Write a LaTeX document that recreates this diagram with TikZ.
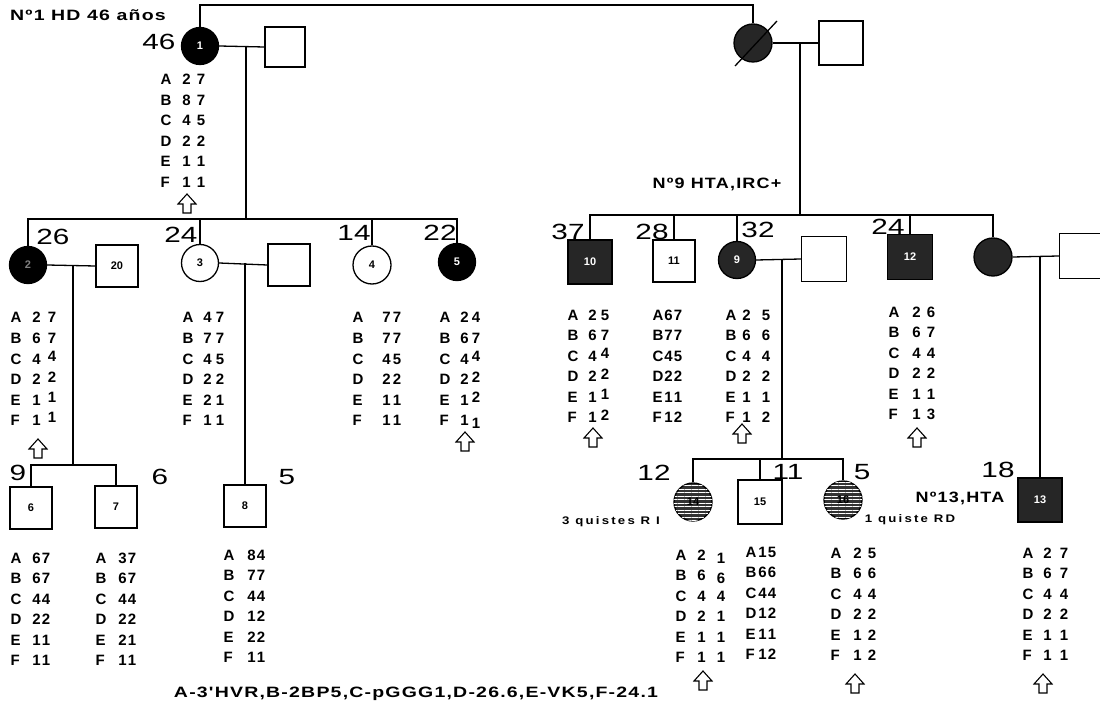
\documentclass[tikz,border=0pt]{standalone}
\usepackage{fontspec}
\setmainfont{Liberation Sans}
\newfontfamily\agef[FakeStretch=1.35]{Liberation Sans}
\newfontfamily\notef[FakeStretch=1.2,LetterSpace=8]{Liberation Sans}
\newfontfamily\legf[FakeStretch=1.3,LetterSpace=8]{Liberation Sans}
\newfontfamily\snotef[FakeStretch=1.2,LetterSpace=20]{Liberation Sans}
\usetikzlibrary{patterns.meta}
\newcommand\gtab[3]{\begin{tabular}[t]{@{}l@{\hspace{#1}}c@{\hspace{#2}}c@{}}#3\end{tabular}}
\newcommand\hi[1]{\raisebox{2.5pt}{#1}}
\newcommand\lo[1]{\raisebox{-3pt}{#1}}
\tikzset{uparr/.pic={\draw[line width=1.1pt,fill=white,line join=miter] (-9,0) -- (0,-10) -- (9,0) -- (4,0) -- (4,9) -- (-4,9) -- (-4,0) -- cycle;}}
\begin{document}
\begin{tikzpicture}[x=1pt,y=-1pt,line width=1.3pt,
  fem/.style={circle,draw,minimum size=37pt,inner sep=0pt,font=\fontsize{11}{12}\selectfont\bfseries},
  mal/.style={rectangle,draw,minimum size=42pt,inner sep=0pt,font=\fontsize{11}{12}\selectfont\bfseries},
  aff/.style={fill=black,text=white},
  dark/.style={fill=black!85,text=white},
  hatched/.style={fill=black!80,text=black,postaction={pattern={Lines[angle=0,distance=3.5pt,line width=1pt]},pattern color=white}},
  age/.style={font=\agef\fontsize{22}{23}\selectfont,inner sep=0pt},
  geno/.style={font=\fontsize{15}{20.5}\selectfont\bfseries,inner sep=0pt,anchor=base west},
  note/.style={font=\notef\fontsize{15}{16}\selectfont\bfseries,inner sep=0pt},
  leg/.style={font=\legf\fontsize{15}{16}\selectfont\bfseries,inner sep=0pt},
  snote/.style={font=\snotef\fontsize{11}{12}\selectfont\bfseries,inner sep=0pt}]
\useasboundingbox (0,0) rectangle (1100,703);

% generation I
\node[fem,aff] (n1) at (200,46) {1};
\node[mal,minimum size=40pt] (s1) at (285,47) {};
\node[fem,dark,minimum size=38pt] (g1) at (753,43) {};
\node[mal,minimum size=44pt] (s2) at (841,43) {};
\draw (735,66) -- (777,21);

% generation II
\node[fem,aff,text=gray] (n2) at (28,265) {2};
\node[mal] (n20) at (117,266) {20};
\node[fem] (n3) at (200,263) {3};
\node[mal] (s3) at (289,265) {};
\node[fem,minimum size=38pt] (n4) at (372,265) {4};
\node[fem,aff] (n5) at (457,262) {5};
\node[mal,dark,minimum size=44pt] (n10) at (590,262) {10};
\node[mal] (n11) at (674,261) {11};
\node[fem,dark] (n9) at (737,260) {9};
\node[mal,minimum size=45pt] (s9) at (824,259) {};
\node[mal,dark,minimum size=45pt] (n12) at (910,257) {12};
\node[fem,dark,minimum size=38pt] (f2) at (993,257) {};
\node[mal,minimum size=45pt] (s4) at (1082,256) {};

% generation III
\node[mal] (n6) at (31,508) {6};
\node[mal] (n7) at (116,507) {7};
\node[mal] (n8) at (245,506) {8};
\node[fem,hatched,minimum size=38pt] (n14) at (693,502) {14};
\node[mal,minimum size=44pt] (n15) at (760,502) {15};
\node[fem,hatched,minimum size=38pt] (n16) at (843,500) {16};
\node[mal,dark,minimum size=44pt] (n13) at (1040,500) {13};

% connectors
\coordinate (top) at (0,5);
\draw (n1.north) -- (n1.north |- top) -| (g1.north);
\draw (n1.east) -- (s1.west);
\coordinate (m1) at (246,47);
\coordinate (sib1) at (0,219);
\draw (m1) -- (m1 |- sib1);
\draw (n2.north) -- (n2.north |- sib1) -- (n5.north |- sib1) -- (n5.north);
\draw (n3.north) -- (n3.north |- sib1);
\draw (n4.north) -- (n4.north |- sib1);

\draw (g1.east) -- (s2.west);
\coordinate (m2) at (800,43);
\coordinate (sib2) at (0,215);
\draw (m2) -- (m2 |- sib2);
\draw (n10.north) -- (n10.north |- sib2) -- (f2.north |- sib2) -- (f2.north);
\draw (n11.north) -- (n11.north |- sib2);
\draw (n9.north) -- (n9.north |- sib2);
\draw (n12.north) -- (n12.north |- sib2);

\draw (n2.east) -- (n20.west);
\coordinate (m3) at (73,266);
\coordinate (sib3) at (0,465);
\draw (m3) -- (m3 |- sib3);
\draw (n6.north) -- (n6.north |- sib3) -- (n7.north |- sib3) -- (n7.north);

\draw (n3.east) -- (s3.west);
\coordinate (m4) at (n8 |- n3);
\draw (m4) -- (n8.north);

\draw (n9.east) -- (s9.west);
\coordinate (m5) at (782,260);
\coordinate (sib4) at (0,459);
\draw (m5) -- (m5 |- sib4);
\draw (n14.north) -- (n14.north |- sib4) -- (n16.north |- sib4) -- (n16.north);
\draw (n15.north) -- (n15.north |- sib4);

\draw (f2.east) -- (s4.west);
\coordinate (m6) at (n13 |- f2);
\draw (m6) -- (n13.north);

% ages
\node[age] (a1) at (159,42) {46};
\node[age] (a2) at (53,237) {26};
\node[age] (a3) at (181,235) {24};
\node[age] (a4) at (354,233) {14};
\node[age] (a5) at (440,233) {22};
\node[age] (a10) at (568,232) {37};
\node[age] (a11) at (652,232) {28};
\node[age] (a9) at (758,230) {32};
\node[age] (a12) at (888,227) {24};
\node[age] (a6) at (18,473) {9};
\node[age] (a7) at (160,477) {6};
\node[age] (a8) at (287,477) {5};
\node[age] (a14) at (654,473) {12};
\node[age] (a15) at (788,472) {11};
\node[age] (a16) at (862,472) {5};
\node[age] (a13) at (998,470) {18};

% notes
\node[leg] (c1) at (88,15) {Nº1 HD 46 años};
\node[note] (c9) at (717,184) {Nº9 HTA,IRC+};
\node[note] (c13) at (960,498) {Nº13,HTA};
\node[snote] (q14) at (611,522) {3 quistes R I};
\node[snote] (q16) at (910,520) {1 quiste RD};
\node[leg] (lg) at (416,694) {A-3'HVR,B-2BP5,C-pGGG1,D-26.6,E-VK5,F-24.1};

% genotypes
\node[geno] (t1) at (160,85) {\gtab{11pt}{6pt}{A&2&7\\B&8&7\\C&4&5\\D&2&2\\E&1&1\\F&1&1}};
\node[geno] (t2) at (10,323) {\gtab{11pt}{7pt}{A&2&7\\B&6&7\\C&4&\hi{4}\\D&2&\hi{2}\\E&1&\hi{1}\\F&1&\hi{1}}};
\node[geno] (t3) at (182,323) {\gtab{10pt}{4pt}{A&4&7\\B&7&7\\C&4&5\\D&2&2\\E&2&1\\F&1&1}};
\node[geno] (t4) at (352,323) {\gtab{19pt}{2pt}{A&7&7\\B&7&7\\C&4&5\\D&2&2\\E&1&1\\F&1&1}};
\node[geno] (t5) at (439,323) {\gtab{10pt}{3pt}{A&2&4\\B&6&7\\C&4&\hi{4}\\D&2&\hi{2}\\E&1&\hi{2}\\F&1&\lo{1}}};
\node[geno] (t10) at (567,320) {\gtab{10pt}{4pt}{A&2&5\\B&6&7\\C&4&\hi{4}\\D&2&\hi{2}\\E&1&\hi{1}\\F&1&\hi{2}}};
\node[geno] (t11) at (652,320) {\gtab{1pt}{1pt}{A&6&7\\B&7&7\\C&4&5\\D&2&2\\E&1&1\\F&1&2}};
\node[geno] (t9) at (725,320) {\gtab{6pt}{11pt}{A&2&5\\B&6&6\\C&4&4\\D&2&2\\E&1&1\\F&1&2}};
\node[geno] (t12) at (888,317) {\gtab{13pt}{6pt}{A&2&6\\B&6&7\\C&4&4\\D&2&2\\E&1&1\\F&1&3}};
\node[geno] (t6) at (10,563) {\gtab{11pt}{1pt}{A&6&7\\B&6&7\\C&4&4\\D&2&2\\E&1&1\\F&1&1}};
\node[geno] (t7) at (95,563) {\gtab{12pt}{1pt}{A&3&7\\B&6&7\\C&4&4\\D&2&2\\E&2&1\\F&1&1}};
\node[geno] (t8) at (223,560) {\gtab{13pt}{1pt}{A&8&4\\B&7&7\\C&4&4\\D&1&2\\E&2&2\\F&1&1}};
\node[geno] (t14) at (675,560) {\gtab{11pt}{11pt}{A&2&\lo{1}\\B&6&\lo{6}\\C&4&4\\D&2&1\\E&1&1\\F&1&1}};
\node[geno] (t15) at (745,557) {\gtab{2pt}{1pt}{A&1&5\\B&6&6\\C&4&4\\D&1&2\\E&1&1\\F&1&2}};
\node[geno] (t16) at (830,558) {\gtab{12pt}{6pt}{A&2&5\\B&6&6\\C&4&4\\D&2&2\\E&1&2\\F&1&2}};
\node[geno] (t13) at (1022,558) {\gtab{10pt}{8pt}{A&2&7\\B&6&7\\C&4&4\\D&2&2\\E&1&1\\F&1&1}};

% arrows
\pic at (187,204) {uparr};
\pic at (38,449) {uparr};
\pic at (465,442) {uparr};
\pic at (593,438) {uparr};
\pic at (742,434) {uparr};
\pic at (917,438) {uparr};
\pic at (703,681) {uparr};
\pic at (855,684) {uparr};
\pic at (1043,684) {uparr};
\end{tikzpicture}
\end{document}
